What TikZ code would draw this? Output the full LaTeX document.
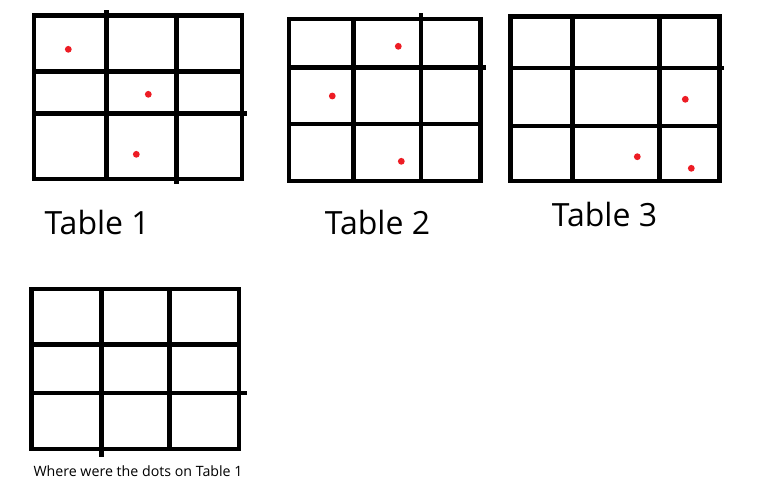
\documentclass[tikz,border=0pt]{standalone}
\usepackage{fontspec}
\setmainfont{Open Sans}
\begin{document}
\begin{tikzpicture}[x=1pt,y=-1pt,
  gridline/.style={line width=4.4pt,line cap=rect},
  reddot/.style={fill={rgb,255:red,237;green,28;blue,36},draw=none},
  title/.style={font=\fontsize{32}{32}\selectfont,anchor=base,inner sep=0pt},
  caption/.style={font=\fontsize{14.2}{14.2}\selectfont,anchor=base,inner sep=0pt}]
\useasboundingbox[fill=white] (0,0) rectangle (757,501);
% Table 1
\draw[gridline] (33.7,15.3) rectangle (242,178.7);
\draw[gridline] (106.3,12) -- (106.3,178.7);
\draw[gridline] (176.3,15.3) -- (176.3,181.7);
\draw[gridline] (33.7,71.3) -- (242,71.3);
\draw[gridline] (33.7,113.3) -- (245,113.3);
\fill[reddot] (68.3,49.3) circle (3.4);
\fill[reddot] (148.3,94.3) circle (3.4);
\fill[reddot] (136.3,154.3) circle (3.4);
% Table 2
\draw[gridline] (288.7,18.7) rectangle (480.3,181);
\draw[gridline] (353.3,18.7) -- (353.3,181);
\draw[gridline] (420.7,15) -- (420.7,181);
\draw[gridline] (288.7,67.3) -- (483.5,67.3);
\draw[gridline] (288.7,124) -- (480.3,124);
\fill[reddot] (398.3,46.3) circle (3.4);
\fill[reddot] (332.3,96) circle (3.4);
\fill[reddot] (401.3,161.3) circle (3.4);
% Table 3
\draw[gridline] (510.3,16.3) rectangle (719.3,180.7);
\draw[gridline] (572.3,16.3) -- (572.3,180.7);
\draw[gridline] (659.3,16.3) -- (659.3,180.7);
\draw[gridline] (510.3,68) -- (722,68);
\draw[gridline] (510.3,125.7) -- (719.3,125.7);
\fill[reddot] (685.3,99.3) circle (3.4);
\fill[reddot] (637.3,156.7) circle (3.4);
\fill[reddot] (691.3,168.3) circle (3.4);
% Table 4
\draw[gridline] (31.3,288.7) rectangle (238.7,448.7);
\draw[gridline] (101.3,288.7) -- (101.3,454.5);
\draw[gridline] (169.3,288.7) -- (169.3,448.7);
\draw[gridline] (31.3,344.3) -- (238.7,344.3);
\draw[gridline] (31.3,393) -- (245,393);
% labels
\node[title] (t1) at (97.2,234) {Table 1};
\node[title] (t2) at (377.5,234) {Table 2};
\node[title] (t3) at (604.5,226.7) {Table 3};
\node[caption] (cap) at (138,476.5) {Where were the dots on Table 1};
\end{tikzpicture}
\end{document}
